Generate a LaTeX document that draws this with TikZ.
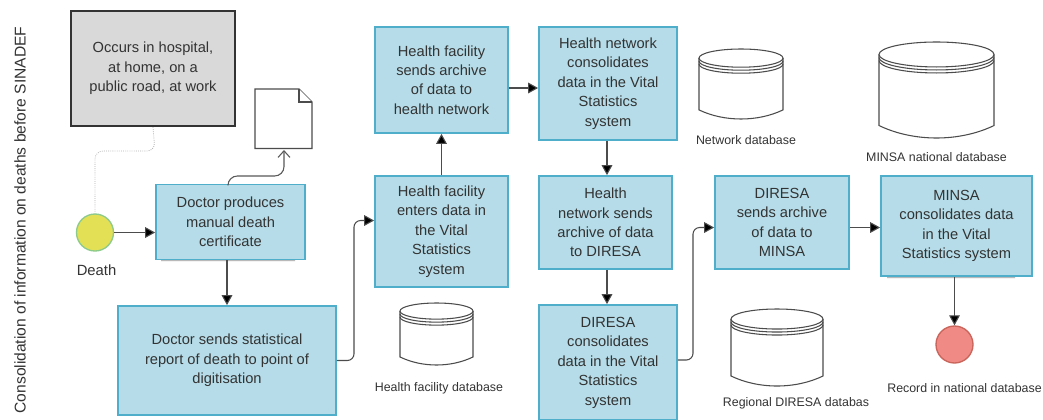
\documentclass[tikz,border=0pt]{standalone}
\usepackage{fontspec}
\setmainfont{Liberation Sans}
\usetikzlibrary{arrows.meta,calc}
\definecolor{boxfill}{HTML}{B5DCE8}
\definecolor{boxline}{HTML}{4FAFCB}
\definecolor{ink}{HTML}{333333}
\definecolor{shade}{HTML}{5B8FC0}
\definecolor{startfill}{HTML}{E3E055}
\definecolor{startline}{HTML}{8CCB8C}
\definecolor{endfill}{HTML}{F08A85}
\definecolor{endline}{HTML}{C9655A}
\tikzset{
  bx/.style={draw=boxline,fill=boxfill,line width=1.3pt,inner sep=0pt,align=center,text=ink,
    font=\fontsize{11}{14.6}\selectfont},
  gbox/.style={draw=black!80,fill=black!15,line width=1.6pt,inner sep=0pt,align=center,text=ink,
    font=\fontsize{11}{14.6}\selectfont},
  sz/.style 2 args={minimum width=#1*0.75pt,minimum height=#2*0.75pt},
  lab/.style={text=ink,inner sep=0pt,font=\fontsize{9.3}{11}\selectfont},
  labb/.style={text=ink,inner sep=0pt,font=\fontsize{11.1}{13}\selectfont},
  flow/.style={draw=black!70,line width=0.8pt,-{Triangle[length=7.5pt,width=8pt,fill=black]},rounded corners=5pt},
  openflow/.style={draw=black!65,line width=0.8pt,-{Straight Barb[length=5pt,width=9pt]},rounded corners=7pt},
  assoc/.style={draw=black!30,line width=0.6pt,densely dotted,rounded corners=6pt},
  dbline/.style={draw=black!70,line width=0.8pt,fill=white},
}
% name, left, top, right, bottom (pixels)
\newcommand{\dbcyl}[5]{%
  \pgfmathsetmacro{\cxm}{(#2+#4)/2}
  \pgfmathsetmacro{\rh}{(#5-#3)*0.13}
  \pgfmathsetmacro{\rw}{(#4-#2)/2}
  \pgfmathsetmacro{\ya}{#3+\rh}
  \pgfmathsetmacro{\yb}{#5-\rh}
  \pgfmathsetmacro{\cl}{\cxm-\rw*0.4}
  \pgfmathsetmacro{\cR}{\cxm+\rw*0.4}
  \pgfmathsetmacro{\yc}{#5+\rh*0.333}
  \filldraw[dbline] (#2,\ya) -- (#2,\yb) .. controls (\cl,\yc) and (\cR,\yc) .. (#4,\yb) -- (#4,\ya);
  \filldraw[dbline] (\cxm,\ya) ellipse [x radius=\rw,y radius=\rh];
  \draw[dbline,fill=none] (#2,\ya+3) arc [start angle=180,end angle=0,x radius=\rw,y radius=\rh];
  \draw[dbline,fill=none] (#2,\ya+6) arc [start angle=180,end angle=0,x radius=\rw,y radius=\rh];
  \coordinate (#1) at (\cxm,\ya);
}
\begin{document}
\begin{tikzpicture}[x=0.75pt,y=-0.75pt]
\useasboundingbox (0,0) rectangle (1043,419);
\fill[white] (0,0) rectangle (1043,419);

\node[labb,rotate=90,font=\fontsize{11.7}{13}\selectfont] (title) at (20,220) {Consolidation of information on deaths before SINADEF};

\node[gbox,sz={164}{115}] (occurs) at (153,68.5) {Occurs in hospital,\\at home, on a\\public road, at work};

\fill[shade] (161,259) rectangle (295,261.2);
\fill[shade] (887,276) rectangle (1015,278.2);

\node[bx,sz={149}{75}] (dp) at (230.5,222) {Doctor produces\\manual death\\certificate};
\node[bx,sz={218}{109}] (ds) at (227,360.5) {Doctor sends statistical\\report of death to point of\\digitisation};
\node[bx,sz={133}{106}] (hfs) at (441.5,80) {Health facility\\sends archive\\of data to\\health network};
\node[bx,sz={133}{111}] (hfe) at (441.5,231.5) {Health facility\\enters data in\\the Vital\\Statistics\\system};
\node[bx,sz={138}{113}] (hnc) at (608,83.5) {Health network\\consolidates\\data in the Vital\\Statistics\\system};
\node[bx,sz={133}{93}] (hns) at (605.5,222.5) {Health\\network sends\\archive of data\\to DIRESA};
\node[bx,sz={138}{115}] (dc) at (608,362.5) {DIRESA\\consolidates\\data in the Vital\\Statistics\\system};
\node[bx,sz={134}{93}] (dsa) at (782,222.5) {DIRESA\\sends archive\\of data to\\MINSA};
\node[bx,sz={151}{100}] (mc) at (956.5,226) {MINSA\\consolidates data\\in the Vital\\Statistics system};

\node[circle,draw=startline,fill=startfill,line width=1pt,minimum size=37*0.75pt,inner sep=0pt] (death) at (95,232.5) {};
\node[circle,draw=endline,fill=endfill,line width=1pt,minimum size=37*0.75pt,inner sep=0pt] (rec) at (954.5,344.5) {};

\node[labb] (deathl) at (96.5,270) {Death};

% document
\coordinate (docb) at (284,150);
\filldraw[draw=black!70,fill=white,line width=1pt] (255,89) -- (299,89) -- (312,102) -- (312,148.5) -- (255,148.5) -- cycle;
\draw[draw=black!70,fill=white,line width=0.8pt] (299,89) -- (299,102) -- (312,102);

% databases
\dbcyl{dbhf}{400}{303}{473}{365}
\dbcyl{dbnet}{699}{49}{783}{119}
\dbcyl{dbminsa}{879}{42}{994}{138}
\dbcyl{dbreg}{731}{309}{823}{386}

\node[lab] (l1) at (439,388) {Health facility database};
\node[lab] (l2) at (746,140) {Network database};
\node[lab] (l3) at (936.5,157) {MINSA national database};
\node[lab] (l4) at (796,403) {Regional DIRESA databas};
\node[lab] (l5) at (964.5,388) {Record in national database};

% connectors
\draw[assoc] (occurs.south) -- (155,151) -- (95,151) -- (death.north);
\draw[flow] (death.east) -- (death.east -| dp.west);
\draw[flow] (dp.south -| ds.north) -- (ds.north);
\draw[openflow] (228,184) -- (228,176) -- (284,176) -- (docb);
\draw[flow] (ds.east) -- (354,360.5) -- (354,220.5) -- ($(hfe.west)+(0,-11)$);
\draw[flow] (hfe) -- (hfs);
\draw[flow] ($(hfs.east)+(0,8)$) -- ($(hfs.east -| hnc.west)+(0,8)$);
\draw[flow] ($(hnc.south -| hns.north)+(1.5,0)$) -- ($(hns.north)+(1.5,0)$);
\draw[flow] ($(hns.south)+(1.5,0)$) -- ($(dc.north -| hns.south)+(1.5,0)$);
\draw[flow] ($(dc.east)+(0,-2.5)$) -- (693,360) -- (693,227.5) -- ($(dsa.west)+(0,5)$);
\draw[flow] ($(dsa.east)+(0,5)$) -- ($(dsa.east -| mc.west)+(0,5)$);
\draw[flow] (mc.south -| rec.north) -- (rec.north);
\end{tikzpicture}
\end{document}
